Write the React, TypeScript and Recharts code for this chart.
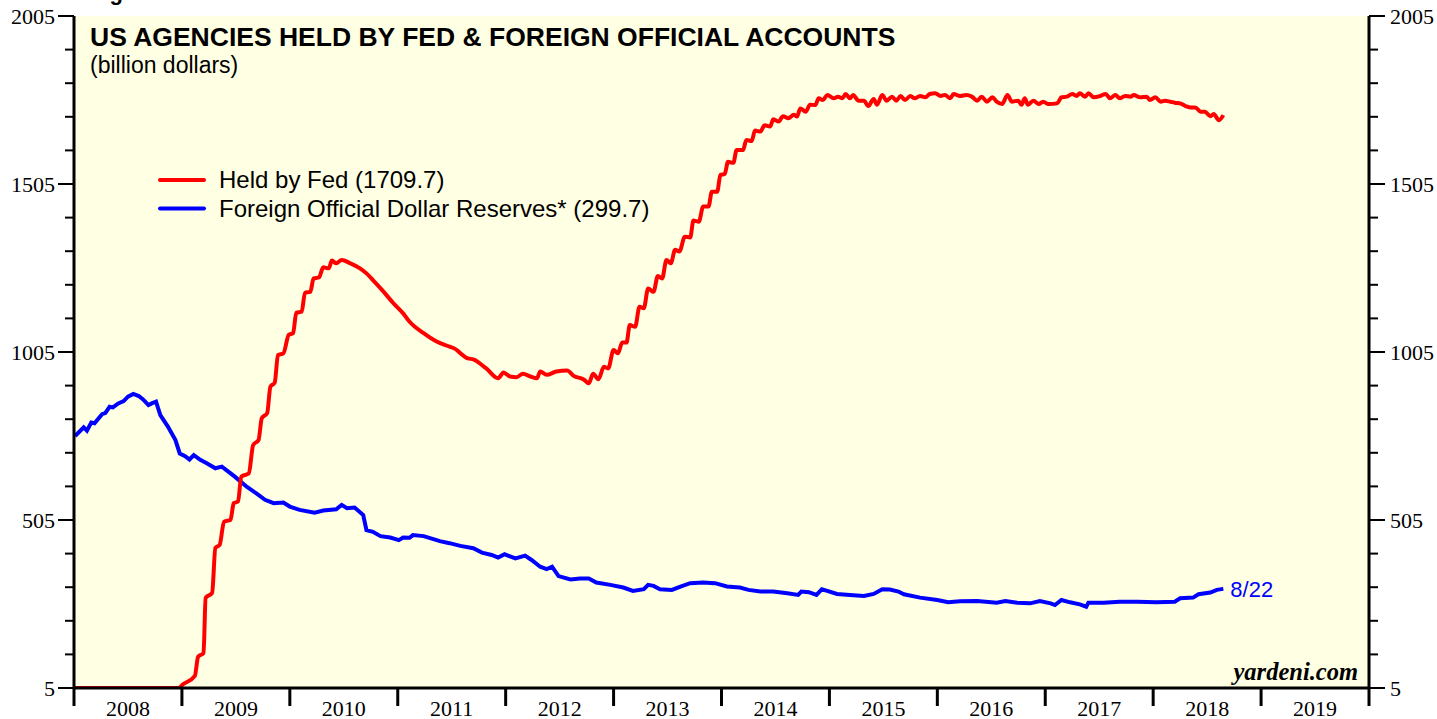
import {
  CartesianGrid,
  LabelList,
  Line,
  LineChart,
  XAxis,
  YAxis,
} from 'recharts'

const fedYears = [
  2008.0, 2008.97, 2009.01, 2009.12, 2009.15, 2009.2, 2009.22, 2009.28, 2009.31, 2009.35,
  2009.39, 2009.45, 2009.48, 2009.52, 2009.55, 2009.62, 2009.66, 2009.71, 2009.74, 2009.79,
  2009.82, 2009.86, 2009.89, 2009.94, 2009.99, 2010.03, 2010.06, 2010.11, 2010.14, 2010.19,
  2010.22, 2010.27, 2010.31, 2010.36, 2010.39, 2010.43, 2010.48, 2010.56, 2010.65, 2010.71,
  2010.77, 2010.87, 2010.96, 2011.05, 2011.11, 2011.24, 2011.36, 2011.48, 2011.52, 2011.65,
  2011.7, 2011.82, 2011.93, 2011.98, 2012.04, 2012.1, 2012.16, 2012.23, 2012.29, 2012.32,
  2012.38, 2012.47, 2012.57, 2012.63, 2012.72, 2012.77, 2012.81, 2012.86, 2012.91, 2012.95,
  2013.0, 2013.04, 2013.08, 2013.12, 2013.15, 2013.2, 2013.24, 2013.28, 2013.32, 2013.37,
  2013.41, 2013.45, 2013.49, 2013.53, 2013.57, 2013.61, 2013.66, 2013.71, 2013.74, 2013.79,
  2013.83, 2013.88, 2013.91, 2013.96, 2013.99, 2014.03, 2014.06, 2014.11, 2014.14, 2014.2,
  2014.23, 2014.28, 2014.31, 2014.36, 2014.4, 2014.45, 2014.48, 2014.53, 2014.57, 2014.62,
  2014.67, 2014.7, 2014.73, 2014.78, 2014.82, 2014.87, 2014.9, 2014.94, 2014.98, 2015.04,
  2015.08, 2015.12, 2015.15, 2015.19, 2015.22, 2015.27, 2015.32, 2015.36, 2015.41, 2015.44,
  2015.49, 2015.53, 2015.58, 2015.62, 2015.66, 2015.7, 2015.75, 2015.79, 2015.84, 2015.89,
  2015.93, 2015.98, 2016.03, 2016.07, 2016.12, 2016.15, 2016.21, 2016.27, 2016.32, 2016.37,
  2016.41, 2016.46, 2016.51, 2016.55, 2016.6, 2016.65, 2016.69, 2016.75, 2016.78, 2016.81,
  2016.84, 2016.89, 2016.94, 2016.98, 2017.03, 2017.11, 2017.15, 2017.2, 2017.25, 2017.29,
  2017.32, 2017.37, 2017.4, 2017.45, 2017.51, 2017.56, 2017.6, 2017.65, 2017.69, 2017.74,
  2017.79, 2017.82, 2017.88, 2017.94, 2017.97, 2018.02, 2018.07, 2018.11, 2018.16, 2018.2,
  2018.25, 2018.3, 2018.34, 2018.39, 2018.44, 2018.48, 2018.53, 2018.56, 2018.61, 2018.65,
]
const fedValues = [
  5, 5, 16, 41, 98, 109, 273, 288, 422, 431,
  500, 505, 555, 560, 634, 644, 728, 743, 808, 823,
  902, 914, 996, 1001, 1056, 1061, 1122, 1125, 1181, 1184,
  1224, 1227, 1257, 1254, 1277, 1269, 1279, 1269, 1254, 1239,
  1219, 1184, 1150, 1120, 1095, 1061, 1036, 1021, 1016, 986,
  983, 956, 927, 944, 932, 930, 940, 932, 927, 947,
  937, 947, 950, 934, 924, 912, 940, 924, 961, 956,
  1011, 1001, 1033, 1033, 1085, 1080, 1140, 1135, 1194, 1184,
  1231, 1224, 1279, 1269, 1309, 1304, 1348, 1346, 1396, 1393,
  1438, 1438, 1482, 1482, 1532, 1535, 1571, 1568, 1606, 1606,
  1636, 1633, 1664, 1661, 1680, 1676, 1698, 1691, 1707, 1701,
  1711, 1706, 1730, 1720, 1741, 1740, 1760, 1755, 1770, 1760,
  1765, 1760, 1773, 1760, 1770, 1753, 1753, 1737, 1758, 1741,
  1770, 1753, 1765, 1753, 1767, 1755, 1767, 1760, 1767, 1763,
  1773, 1775, 1767, 1770, 1760, 1773, 1767, 1770, 1765, 1753,
  1765, 1750, 1763, 1750, 1743, 1770, 1750, 1753, 1741, 1760,
  1741, 1753, 1743, 1750, 1743, 1745, 1763, 1765, 1773, 1767,
  1775, 1765, 1775, 1763, 1767, 1773, 1760, 1770, 1760, 1767,
  1765, 1770, 1763, 1765, 1755, 1763, 1750, 1753, 1750, 1747,
  1745, 1737, 1733, 1733, 1720, 1720, 1707, 1713, 1695, 1710,
]

const reserveYears = [
  2008.01, 2008.09, 2008.12, 2008.16, 2008.19, 2008.26, 2008.29, 2008.33, 2008.36, 2008.41,
  2008.46, 2008.5, 2008.55, 2008.6, 2008.64, 2008.69, 2008.72, 2008.76, 2008.8, 2008.87,
  2008.94, 2008.98, 2009.03, 2009.07, 2009.11, 2009.17, 2009.23, 2009.31, 2009.37, 2009.43,
  2009.49, 2009.6, 2009.69, 2009.77, 2009.85, 2009.94, 2010.0, 2010.09, 2010.23, 2010.31,
  2010.43, 2010.48, 2010.53, 2010.6, 2010.68, 2010.71, 2010.77, 2010.84, 2010.93, 2011.01,
  2011.05, 2011.11, 2011.14, 2011.24, 2011.33, 2011.39, 2011.48, 2011.58, 2011.7, 2011.78,
  2011.87, 2011.93, 2011.99, 2012.09, 2012.18, 2012.24, 2012.32, 2012.38, 2012.43, 2012.49,
  2012.6, 2012.69, 2012.77, 2012.84, 2012.97, 2013.09, 2013.18, 2013.28, 2013.32, 2013.37,
  2013.43, 2013.54, 2013.62, 2013.71, 2013.83, 2013.94, 2014.05, 2014.17, 2014.25, 2014.36,
  2014.48, 2014.61, 2014.71, 2014.74, 2014.81, 2014.88, 2014.93, 2014.98, 2015.07, 2015.19,
  2015.32, 2015.41, 2015.49, 2015.56, 2015.64, 2015.69, 2015.84, 2016.0, 2016.1, 2016.21,
  2016.37, 2016.55, 2016.63, 2016.74, 2016.86, 2016.95, 2017.05, 2017.09, 2017.15, 2017.23,
  2017.32, 2017.38, 2017.4, 2017.54, 2017.69, 2017.85, 2018.03, 2018.2, 2018.25, 2018.37,
  2018.42, 2018.53, 2018.59, 2018.65,
]
const reserveValues = [
  755, 781, 771, 795, 793, 820, 823, 842, 840, 852,
  859, 872, 880, 874, 864, 847, 852, 857, 817, 783,
  743, 703, 695, 685, 698, 684, 674, 659, 664, 649,
  634, 604, 584, 565, 555, 557, 545, 535, 527, 533,
  537, 550, 540, 542, 520, 475, 470, 457, 453, 445,
  453, 452, 460, 457, 448, 442, 436, 428, 421, 408,
  401, 393, 403, 391, 399, 386, 366, 359, 366, 338,
  328, 331, 331, 319, 312, 304, 294, 299, 312, 309,
  299, 297, 307, 317, 319, 317, 307, 304, 297, 292,
  292, 287, 282, 292, 290, 282, 299, 294, 285, 282,
  279, 285, 299, 298, 292, 284, 274, 267, 260, 263,
  264, 259, 264, 259, 257, 264, 257, 252, 267, 260,
  254, 247, 259, 259, 262, 262, 260, 262, 272, 274,
  284, 289, 297, 300,
]

const yearLabels = ['2008', '2009', '2010', '2011', '2012', '2013', '2014', '2015', '2016', '2017', '2018', '2019']
const yTicks = [5, 105, 205, 305, 405, 505, 605, 705, 805, 905, 1005, 1105, 1205, 1305, 1405, 1505, 1605, 1705, 1805, 1905, 2005]
const yLabelled = [5, 505, 1005, 1505, 2005]
const legendItems = [
  { color: '#ff0000', label: 'Held by Fed (1709.7)' },
  { color: '#0000ff', label: 'Foreign Official Dollar Reserves* (299.7)' },
]

const fedData = fedYears.map((t, i) => ({ t, v: fedValues[i] }))
const reserveData = reserveYears.map((t, i) => ({ t, v: reserveValues[i] }))

const firstYear = Number(yearLabels[0])
const lastYear = Number(yearLabels[yearLabels.length - 1]) + 1
const xTicks = yearLabels.flatMap((y) => [Number(y), Number(y) + 0.5]).concat(lastYear)

const serif = '"Liberation Serif", "Times New Roman", serif'
const sans = '"Liberation Sans", Arial, sans-serif'

const YTick = ({ x, y, payload, side }: any) => {
  const major = yLabelled.includes(payload.value)
  const len = major ? 16 : 9
  const dir = side === 'left' ? -1 : 1
  return (
    <g>
      <line x1={x} x2={x + dir * len} y1={y} y2={y} stroke="#000" strokeWidth={2} />
      {major && (
        <text
          x={side === 'left' ? x - 19 : x + 21}
          y={y}
          dy="0.35em"
          textAnchor={side === 'left' ? 'end' : 'start'}
          fontFamily={serif}
          fontSize={22}
          fill="#000"
        >
          {payload.value}
        </text>
      )}
    </g>
  )
}

const XTick = ({ x, y, payload }: any) => {
  const v = payload.value
  if (Number.isInteger(v)) {
    return <line x1={x} x2={x} y1={y} y2={y + 18} stroke="#000" strokeWidth={3} />
  }
  return (
    <text x={x} y={y + 28} textAnchor="middle" fontFamily={serif} fontSize={22} fill="#000">
      {Math.floor(v)}
    </text>
  )
}

const EndLabel = ({ x, y, index }: any) =>
  index === reserveData.length - 1 ? (
    <text x={x + 7} y={y} dy="0.35em" fontFamily={sans} fontSize={22} fill="#0000ff">
      8/22
    </text>
  ) : null

export default function App() {
  return (
    <div style={{ position: 'absolute', left: 0, top: 0, width: 1437, height: 719 }}>
      <LineChart width={1437} height={719} margin={{ top: 16, right: 0, bottom: 0, left: 0 }}>
        <CartesianGrid horizontal={false} vertical={false} fill="#ffffe3" />
        <XAxis
          dataKey="t"
          type="number"
          domain={[firstYear, lastYear]}
          ticks={xTicks}
          interval={0}
          height={31}
          tickSize={0}
          tickMargin={0}
          tickLine={false}
          tick={<XTick />}
          axisLine={{ stroke: '#000', strokeWidth: 3 }}
          allowDataOverflow
        />
        <XAxis
          xAxisId="top"
          orientation="top"
          dataKey="t"
          type="number"
          domain={[firstYear, lastYear]}
          height={0}
          tick={false}
          tickLine={false}
          axisLine={{ stroke: '#000', strokeWidth: 3 }}
          allowDataOverflow
        />
        <YAxis
          type="number"
          domain={[5, 2005]}
          ticks={yTicks}
          interval={0}
          width={74}
          tickSize={0}
          tickMargin={0}
          tickLine={false}
          tick={<YTick side="left" />}
          axisLine={{ stroke: '#000', strokeWidth: 3 }}
          allowDataOverflow
        />
        <YAxis
          yAxisId="right"
          orientation="right"
          type="number"
          domain={[5, 2005]}
          ticks={yTicks}
          interval={0}
          width={68}
          tickSize={0}
          tickMargin={0}
          tickLine={false}
          tick={<YTick side="right" />}
          axisLine={{ stroke: '#000', strokeWidth: 3 }}
          allowDataOverflow
        />
        {/* invisible copy so the right and top axes get a scale */}
        <Line
          data={fedData}
          dataKey="v"
          xAxisId="top"
          yAxisId="right"
          stroke="none"
          dot={false}
          activeDot={false}
          legendType="none"
          isAnimationActive={false}
        />
        <Line
          data={reserveData}
          dataKey="v"
          stroke="#0000ff"
          strokeWidth={4}
          dot={false}
          isAnimationActive={false}
        >
          <LabelList dataKey="v" content={<EndLabel />} />
        </Line>
        <Line
          data={fedData}
          dataKey="v"
          type="monotone"
          stroke="#ff0000"
          strokeWidth={4}
          dot={false}
          isAnimationActive={false}
        />
      </LineChart>
      <svg
        width={1437}
        height={719}
        style={{ position: 'absolute', left: 0, top: 0, pointerEvents: 'none' }}
      >
        <text x={90} y={0} fontFamily={sans} fontWeight="bold" fontSize={22} fill="#000">
          Figure 5.
        </text>
        <text x={90} y={46} fontFamily={sans} fontWeight="bold" fontSize={26.5} fill="#000">
          US AGENCIES HELD BY FED &amp; FOREIGN OFFICIAL ACCOUNTS
        </text>
        <text x={90} y={73} fontFamily={sans} fontSize={23} fill="#000">
          (billion dollars)
        </text>
        {legendItems.map((it, i) => (
          <g key={it.label}>
            <line
              x1={160}
              x2={204}
              y1={180 + i * 28.5}
              y2={180 + i * 28.5}
              stroke={it.color}
              strokeWidth={4}
              strokeLinecap="round"
            />
            <text
              x={219}
              y={180 + i * 28.5}
              dy="0.35em"
              fontFamily={sans}
              fontSize={24}
              fill="#000"
            >
              {it.label}
            </text>
          </g>
        ))}
        <text
          x={1358}
          y={680}
          textAnchor="end"
          fontFamily={serif}
          fontWeight="bold"
          fontStyle="italic"
          fontSize={24.5}
          fill="#000"
        >
          yardeni.com
        </text>
      </svg>
    </div>
  )
}
